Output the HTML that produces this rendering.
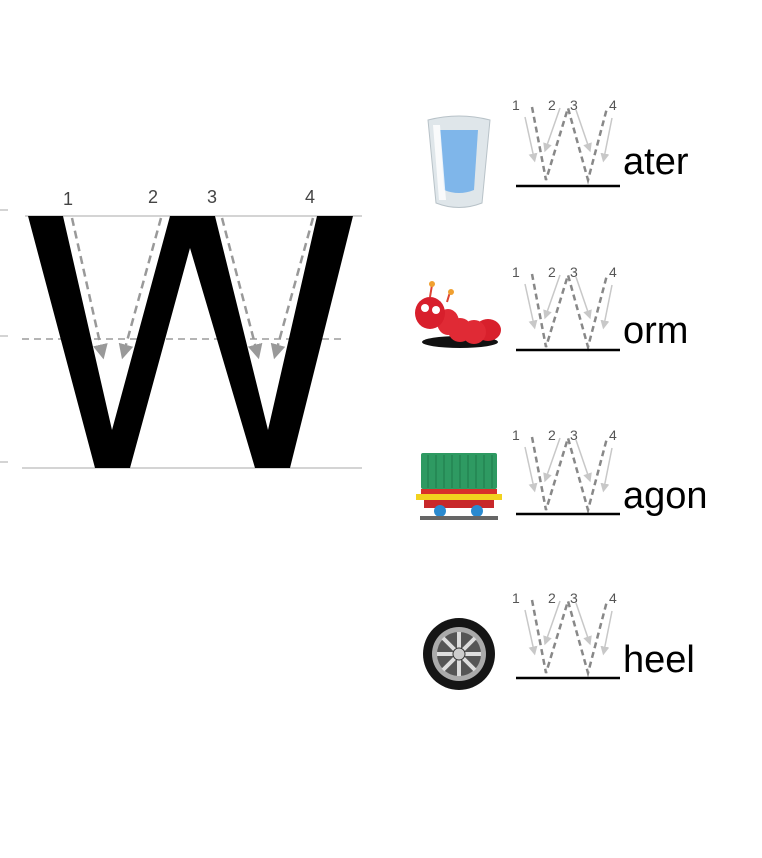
<!DOCTYPE html>
<html><head><meta charset="utf-8"><style>
html,body{margin:0;padding:0;background:#fff;}
svg{display:block;}
text{font-family:"Liberation Sans",Arial,sans-serif;}
</style></head><body>
<svg width="762" height="858" viewBox="0 0 762 858" xmlns="http://www.w3.org/2000/svg">
<defs>
<marker id="ah" markerWidth="6" markerHeight="6" refX="3" refY="3" orient="auto" markerUnits="strokeWidth"><path d="M0,0 L6,3 L0,6 z" fill="#999"/></marker>
<marker id="al" markerWidth="6" markerHeight="6" refX="3" refY="3" orient="auto" markerUnits="strokeWidth"><path d="M0,0 L6,3 L0,6 z" fill="#c8c8c8"/></marker>
</defs>
<!-- guide lines -->
<line x1="25" y1="216" x2="362" y2="216" stroke="#aaa" stroke-width="1"/>
<line x1="22" y1="468" x2="362" y2="468" stroke="#aaa" stroke-width="1"/>
<line x1="22" y1="339" x2="342" y2="339" stroke="#888" stroke-width="1.2" stroke-dasharray="7,5"/>
<line x1="0" y1="210" x2="8" y2="210" stroke="#aaa"/>
<line x1="0" y1="336" x2="8" y2="336" stroke="#aaa"/>
<line x1="0" y1="462" x2="8" y2="462" stroke="#aaa"/>
<!-- big W -->
<polygon points="28,216 63,216 112,430 170,216 215,216 268,430 317,216 353,216 290,468 255,468 190,248 130,468 95,468" fill="#000"/>
<g stroke="#999" stroke-width="2.5" stroke-dasharray="8,5" fill="none">
<line x1="72" y1="218" x2="102" y2="352" marker-end="url(#ah)"/>
<line x1="161" y1="218" x2="124" y2="352" marker-end="url(#ah)"/>
<line x1="222" y1="218" x2="257" y2="352" marker-end="url(#ah)"/>
<line x1="313" y1="218" x2="276" y2="352" marker-end="url(#ah)"/>
</g>
<g font-size="18" fill="#444">
<text x="63" y="205">1</text><text x="148" y="203">2</text><text x="207" y="203">3</text><text x="305" y="203">4</text>
</g>

<!-- small W template rows -->
<g id="r0">
<g stroke="#888" stroke-width="2.5" stroke-dasharray="6,4" fill="none">
<polyline points="532,107 546,180 568,108 588,180 607,108"/>
</g>
<g stroke="#c8c8c8" stroke-width="1.5" fill="none">
<line x1="525" y1="117" x2="534" y2="158" marker-end="url(#al)"/>
<line x1="560" y1="108" x2="546" y2="148" marker-end="url(#al)"/>
<line x1="576" y1="110" x2="589" y2="148" marker-end="url(#al)"/>
<line x1="612" y1="118" x2="604" y2="158" marker-end="url(#al)"/>
</g>
<g font-size="14" fill="#555"><text x="512" y="110">1</text><text x="548" y="110">2</text><text x="570" y="110">3</text><text x="609" y="110">4</text></g>
<line x1="516" y1="186" x2="620" y2="186" stroke="#000" stroke-width="2.5"/>
</g>
<g transform="translate(0,167)">
<g stroke="#888" stroke-width="2.5" stroke-dasharray="6,4" fill="none"><polyline points="532,107 546,180 568,108 588,180 607,108"/></g>
<g stroke="#c8c8c8" stroke-width="1.5" fill="none">
<line x1="525" y1="117" x2="534" y2="158" marker-end="url(#al)"/><line x1="560" y1="108" x2="546" y2="148" marker-end="url(#al)"/>
<line x1="576" y1="110" x2="589" y2="148" marker-end="url(#al)"/><line x1="612" y1="118" x2="604" y2="158" marker-end="url(#al)"/></g>
<g font-size="14" fill="#555"><text x="512" y="110">1</text><text x="548" y="110">2</text><text x="570" y="110">3</text><text x="609" y="110">4</text></g>
<line x1="516" y1="183" x2="620" y2="183" stroke="#000" stroke-width="2.5"/>
</g>
<g transform="translate(0,330)">
<g stroke="#888" stroke-width="2.5" stroke-dasharray="6,4" fill="none"><polyline points="532,107 546,180 568,108 588,180 607,108"/></g>
<g stroke="#c8c8c8" stroke-width="1.5" fill="none">
<line x1="525" y1="117" x2="534" y2="158" marker-end="url(#al)"/><line x1="560" y1="108" x2="546" y2="148" marker-end="url(#al)"/>
<line x1="576" y1="110" x2="589" y2="148" marker-end="url(#al)"/><line x1="612" y1="118" x2="604" y2="158" marker-end="url(#al)"/></g>
<g font-size="14" fill="#555"><text x="512" y="110">1</text><text x="548" y="110">2</text><text x="570" y="110">3</text><text x="609" y="110">4</text></g>
<line x1="516" y1="184" x2="620" y2="184" stroke="#000" stroke-width="2.5"/>
</g>
<g transform="translate(0,493)">
<g stroke="#888" stroke-width="2.5" stroke-dasharray="6,4" fill="none"><polyline points="532,107 546,180 568,108 588,180 607,108"/></g>
<g stroke="#c8c8c8" stroke-width="1.5" fill="none">
<line x1="525" y1="117" x2="534" y2="158" marker-end="url(#al)"/><line x1="560" y1="108" x2="546" y2="148" marker-end="url(#al)"/>
<line x1="576" y1="110" x2="589" y2="148" marker-end="url(#al)"/><line x1="612" y1="118" x2="604" y2="158" marker-end="url(#al)"/></g>
<g font-size="14" fill="#555"><text x="512" y="110">1</text><text x="548" y="110">2</text><text x="570" y="110">3</text><text x="609" y="110">4</text></g>
<line x1="516" y1="185" x2="620" y2="185" stroke="#000" stroke-width="2.5"/>
</g>

<!-- words -->
<g font-size="38" fill="#000">
<text x="623" y="174">ater</text>
<text x="623" y="343">orm</text>
<text x="623" y="508">agon</text>
<text x="623" y="672">heel</text>
</g>

<!-- glass -->
<path d="M428,120 Q459,112 490,120 L482,203 Q459,212 436,203 Z" fill="#dfe6ea" stroke="#b8c2c8"/>
<path d="M440,130 L478,130 L474,190 Q459,196 444,190 Z" fill="#7fb6ea"/>
<path d="M433,125 L440,125 L446,200 L439,200 Z" fill="#fff" opacity="0.8"/>
<!-- worm -->
<ellipse cx="460" cy="342" rx="38" ry="6" fill="#111"/>
<ellipse cx="488" cy="330" rx="13" ry="11" fill="#d8202c"/>
<ellipse cx="474" cy="332" rx="12" ry="12" fill="#e02a35"/>
<ellipse cx="460" cy="330" rx="12" ry="12" fill="#e02a35"/>
<ellipse cx="448" cy="322" rx="11" ry="13" fill="#e02a35"/>
<ellipse cx="430" cy="313" rx="15" ry="16" fill="#d81f2c"/>
<circle cx="425" cy="308" r="4" fill="#fff"/><circle cx="436" cy="310" r="4" fill="#fff"/>
<line x1="430" y1="297" x2="432" y2="285" stroke="#d43" stroke-width="2"/><circle cx="432" cy="284" r="3" fill="#f0a030"/>
<line x1="447" y1="302" x2="450" y2="292" stroke="#d43" stroke-width="2"/><circle cx="451" cy="292" r="3" fill="#f0a030"/>
<!-- wagon -->
<rect x="421" y="453" width="76" height="36" rx="2" fill="#2e9a62"/>
<g stroke="#1f7a4a" stroke-width="1">
<line x1="428" y1="455" x2="428" y2="488"/><line x1="436" y1="455" x2="436" y2="488"/><line x1="444" y1="455" x2="444" y2="488"/><line x1="452" y1="455" x2="452" y2="488"/><line x1="460" y1="455" x2="460" y2="488"/><line x1="468" y1="455" x2="468" y2="488"/><line x1="476" y1="455" x2="476" y2="488"/><line x1="484" y1="455" x2="484" y2="488"/><line x1="492" y1="455" x2="492" y2="488"/></g>
<rect x="421" y="489" width="76" height="5" fill="#d8302a"/>
<rect x="416" y="494" width="86" height="6" fill="#f2d21e"/>
<rect x="424" y="500" width="70" height="8" fill="#c8282a"/>
<circle cx="440" cy="511" r="6" fill="#2a8ad0"/><circle cx="477" cy="511" r="6" fill="#2a8ad0"/>
<rect x="420" y="516" width="78" height="4" fill="#666"/>
<!-- wheel -->
<circle cx="459" cy="654" r="36" fill="#151515"/>
<circle cx="459" cy="654" r="27" fill="#aaa"/>
<circle cx="459" cy="654" r="22" fill="#555"/>
<g stroke="#ddd" stroke-width="4">
<line x1="459" y1="632" x2="459" y2="676"/><line x1="437" y1="654" x2="481" y2="654"/><line x1="443" y1="638" x2="475" y2="670"/><line x1="475" y1="638" x2="443" y2="670"/></g>
<circle cx="459" cy="654" r="6" fill="#ccc" stroke="#333"/>
</svg>
</body></html>
